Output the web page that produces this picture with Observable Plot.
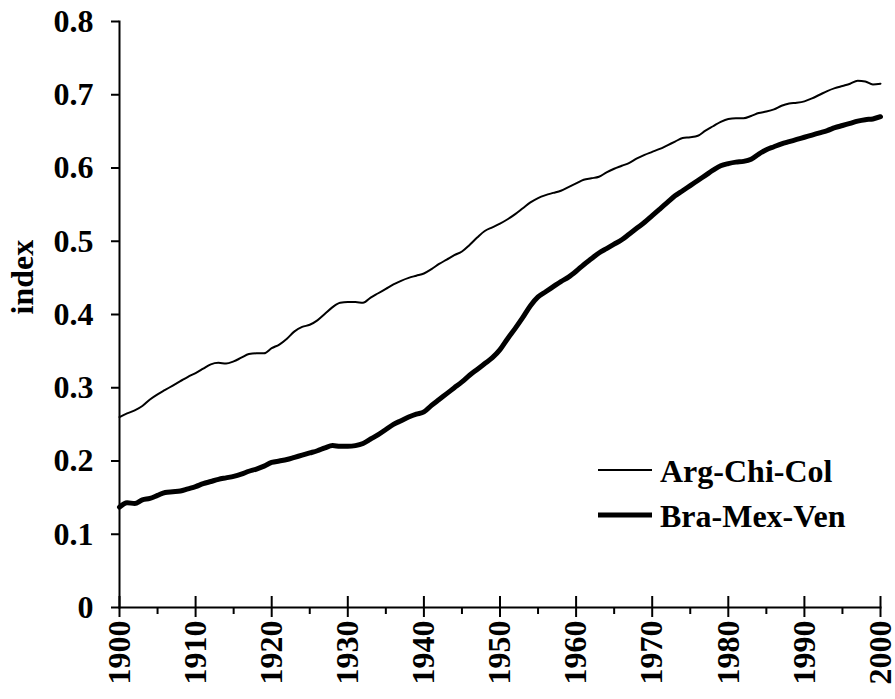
<!DOCTYPE html>
<html>
<head>
<meta charset="utf-8">
<script src="https://cdn.jsdelivr.net/npm/d3@7"></script>
<script src="https://cdn.jsdelivr.net/npm/@observablehq/plot@0.6"></script>
<style>
  html, body { margin: 0; padding: 0; background: #fff; }
  #chart svg { display: block; }
  #chart svg, #chart svg text { font-family: 'Liberation Serif', 'Times New Roman', Times, serif !important; font-weight: bold; }
</style>
</head>
<body>
<div id="chart"></div>
<script>
const years = d3.range(1900, 2001);
const argChiCol = [
  0.260,0.265,0.269,0.275,0.284,0.291,0.297,0.303,0.309,0.315,
  0.320,0.326,0.332,0.334,0.333,0.336,0.341,0.346,0.347,0.347,
  0.354,0.359,0.367,0.377,0.383,0.386,0.392,0.401,0.410,0.416,
  0.417,0.417,0.416,0.423,0.429,0.435,0.441,0.446,0.450,0.453,
  0.456,0.462,0.469,0.475,0.481,0.486,0.495,0.505,0.514,0.519,
  0.524,0.530,0.537,0.545,0.553,0.559,0.563,0.566,0.569,0.574,
  0.579,0.584,0.586,0.588,0.594,0.599,0.603,0.607,0.613,0.618,
  0.622,0.626,0.631,0.636,0.641,0.642,0.644,0.651,0.657,0.663,
  0.667,0.668,0.668,0.671,0.675,0.677,0.680,0.685,0.688,0.689,
  0.691,0.695,0.700,0.705,0.709,0.712,0.715,0.719,0.718,0.714,
  0.715
];
const braMexVen = [
  0.137,0.143,0.142,0.147,0.149,0.153,0.157,0.158,0.159,0.162,
  0.165,0.169,0.172,0.175,0.177,0.179,0.182,0.186,0.189,0.193,
  0.198,0.200,0.202,0.205,0.208,0.211,0.214,0.218,0.221,0.220,
  0.220,0.221,0.224,0.230,0.236,0.243,0.250,0.255,0.260,0.264,
  0.267,0.276,0.284,0.292,0.300,0.308,0.317,0.325,0.333,0.341,
  0.352,0.367,0.381,0.396,0.412,0.424,0.431,0.438,0.445,0.451,
  0.459,0.468,0.476,0.484,0.490,0.496,0.502,0.510,0.518,0.526,
  0.535,0.544,0.553,0.562,0.569,0.576,0.583,0.590,0.597,0.603,
  0.606,0.608,0.609,0.612,0.619,0.625,0.629,0.633,0.636,0.639,
  0.642,0.645,0.648,0.651,0.655,0.658,0.661,0.664,0.666,0.667,
  0.670
];
const seriesNames = ["Arg-Chi-Col", "Bra-Mex-Ven"];
const xMajorTicks = d3.range(1900, 2001, 10);
const xMinorTicks = d3.range(1905, 2000, 10);
const yTicks = [0, 0.1, 0.2, 0.3, 0.4, 0.5, 0.6, 0.7, 0.8];
const yLabel = "index";

const rowsA = years.map((year, i) => ({year, value: argChiCol[i]}));
const rowsB = years.map((year, i) => ({year, value: braMexVen[i]}));

const chart = Plot.plot({
  width: 895,
  height: 699,
  marginLeft: 119,
  marginRight: 15,
  marginTop: 21,
  marginBottom: 92,
  style: {fontSize: "32px", color: "#000", background: "#fff", overflow: "visible"},
  x: {domain: [1900, 2000]},
  y: {domain: [0, 0.8]},
  marks: [
    Plot.axisX(xMinorTicks, {anchor: "bottom", tickSize: 7, strokeWidth: 2, text: null, label: null}),
    Plot.axisX(xMajorTicks, {anchor: "bottom", tickSize: -11, strokeWidth: 2, text: null, label: null}),
    Plot.axisX(xMajorTicks, {anchor: "bottom", tickSize: 10, tickPadding: 3, strokeWidth: 2, tickFormat: d => String(d), tickRotate: -90, label: null, fontSize: 32}),
    Plot.axisY(yTicks, {anchor: "left", tickSize: 8, tickPadding: 18, strokeWidth: 2, tickFormat: d => d === 0 ? "0" : d3.format(".1f")(d), label: null, fontSize: 32}),
    Plot.frame({anchor: "left", strokeWidth: 2}),
    Plot.frame({anchor: "bottom", strokeWidth: 2}),
    Plot.text([yLabel], {frameAnchor: "left", dx: -97, rotate: -90, text: d => d, fontSize: 32}),
    Plot.line(rowsA, {x: "year", y: "value", stroke: "#000", strokeWidth: 2, curve: "monotone-x"}),
    Plot.line(rowsB, {x: "year", y: "value", stroke: "#000", strokeWidth: 5, curve: "monotone-x"})
  ]
});

const svg = d3.select(chart);
const legend = svg.append("g").attr("font-size", 32).attr("fill", "#000").attr("text-anchor", "start");
const legendItems = [
  {name: seriesNames[0], y: 470, w: 2},
  {name: seriesNames[1], y: 515, w: 5}
];
legendItems.forEach(it => {
  legend.append("line").attr("x1", 598).attr("x2", 652).attr("y1", it.y).attr("y2", it.y)
    .attr("stroke", "#000").attr("stroke-width", it.w);
  legend.append("text").attr("x", 660).attr("y", it.y + 12).attr("text-anchor", "start").text(it.name);
});

document.getElementById("chart").appendChild(chart);
</script>
</body>
</html>
